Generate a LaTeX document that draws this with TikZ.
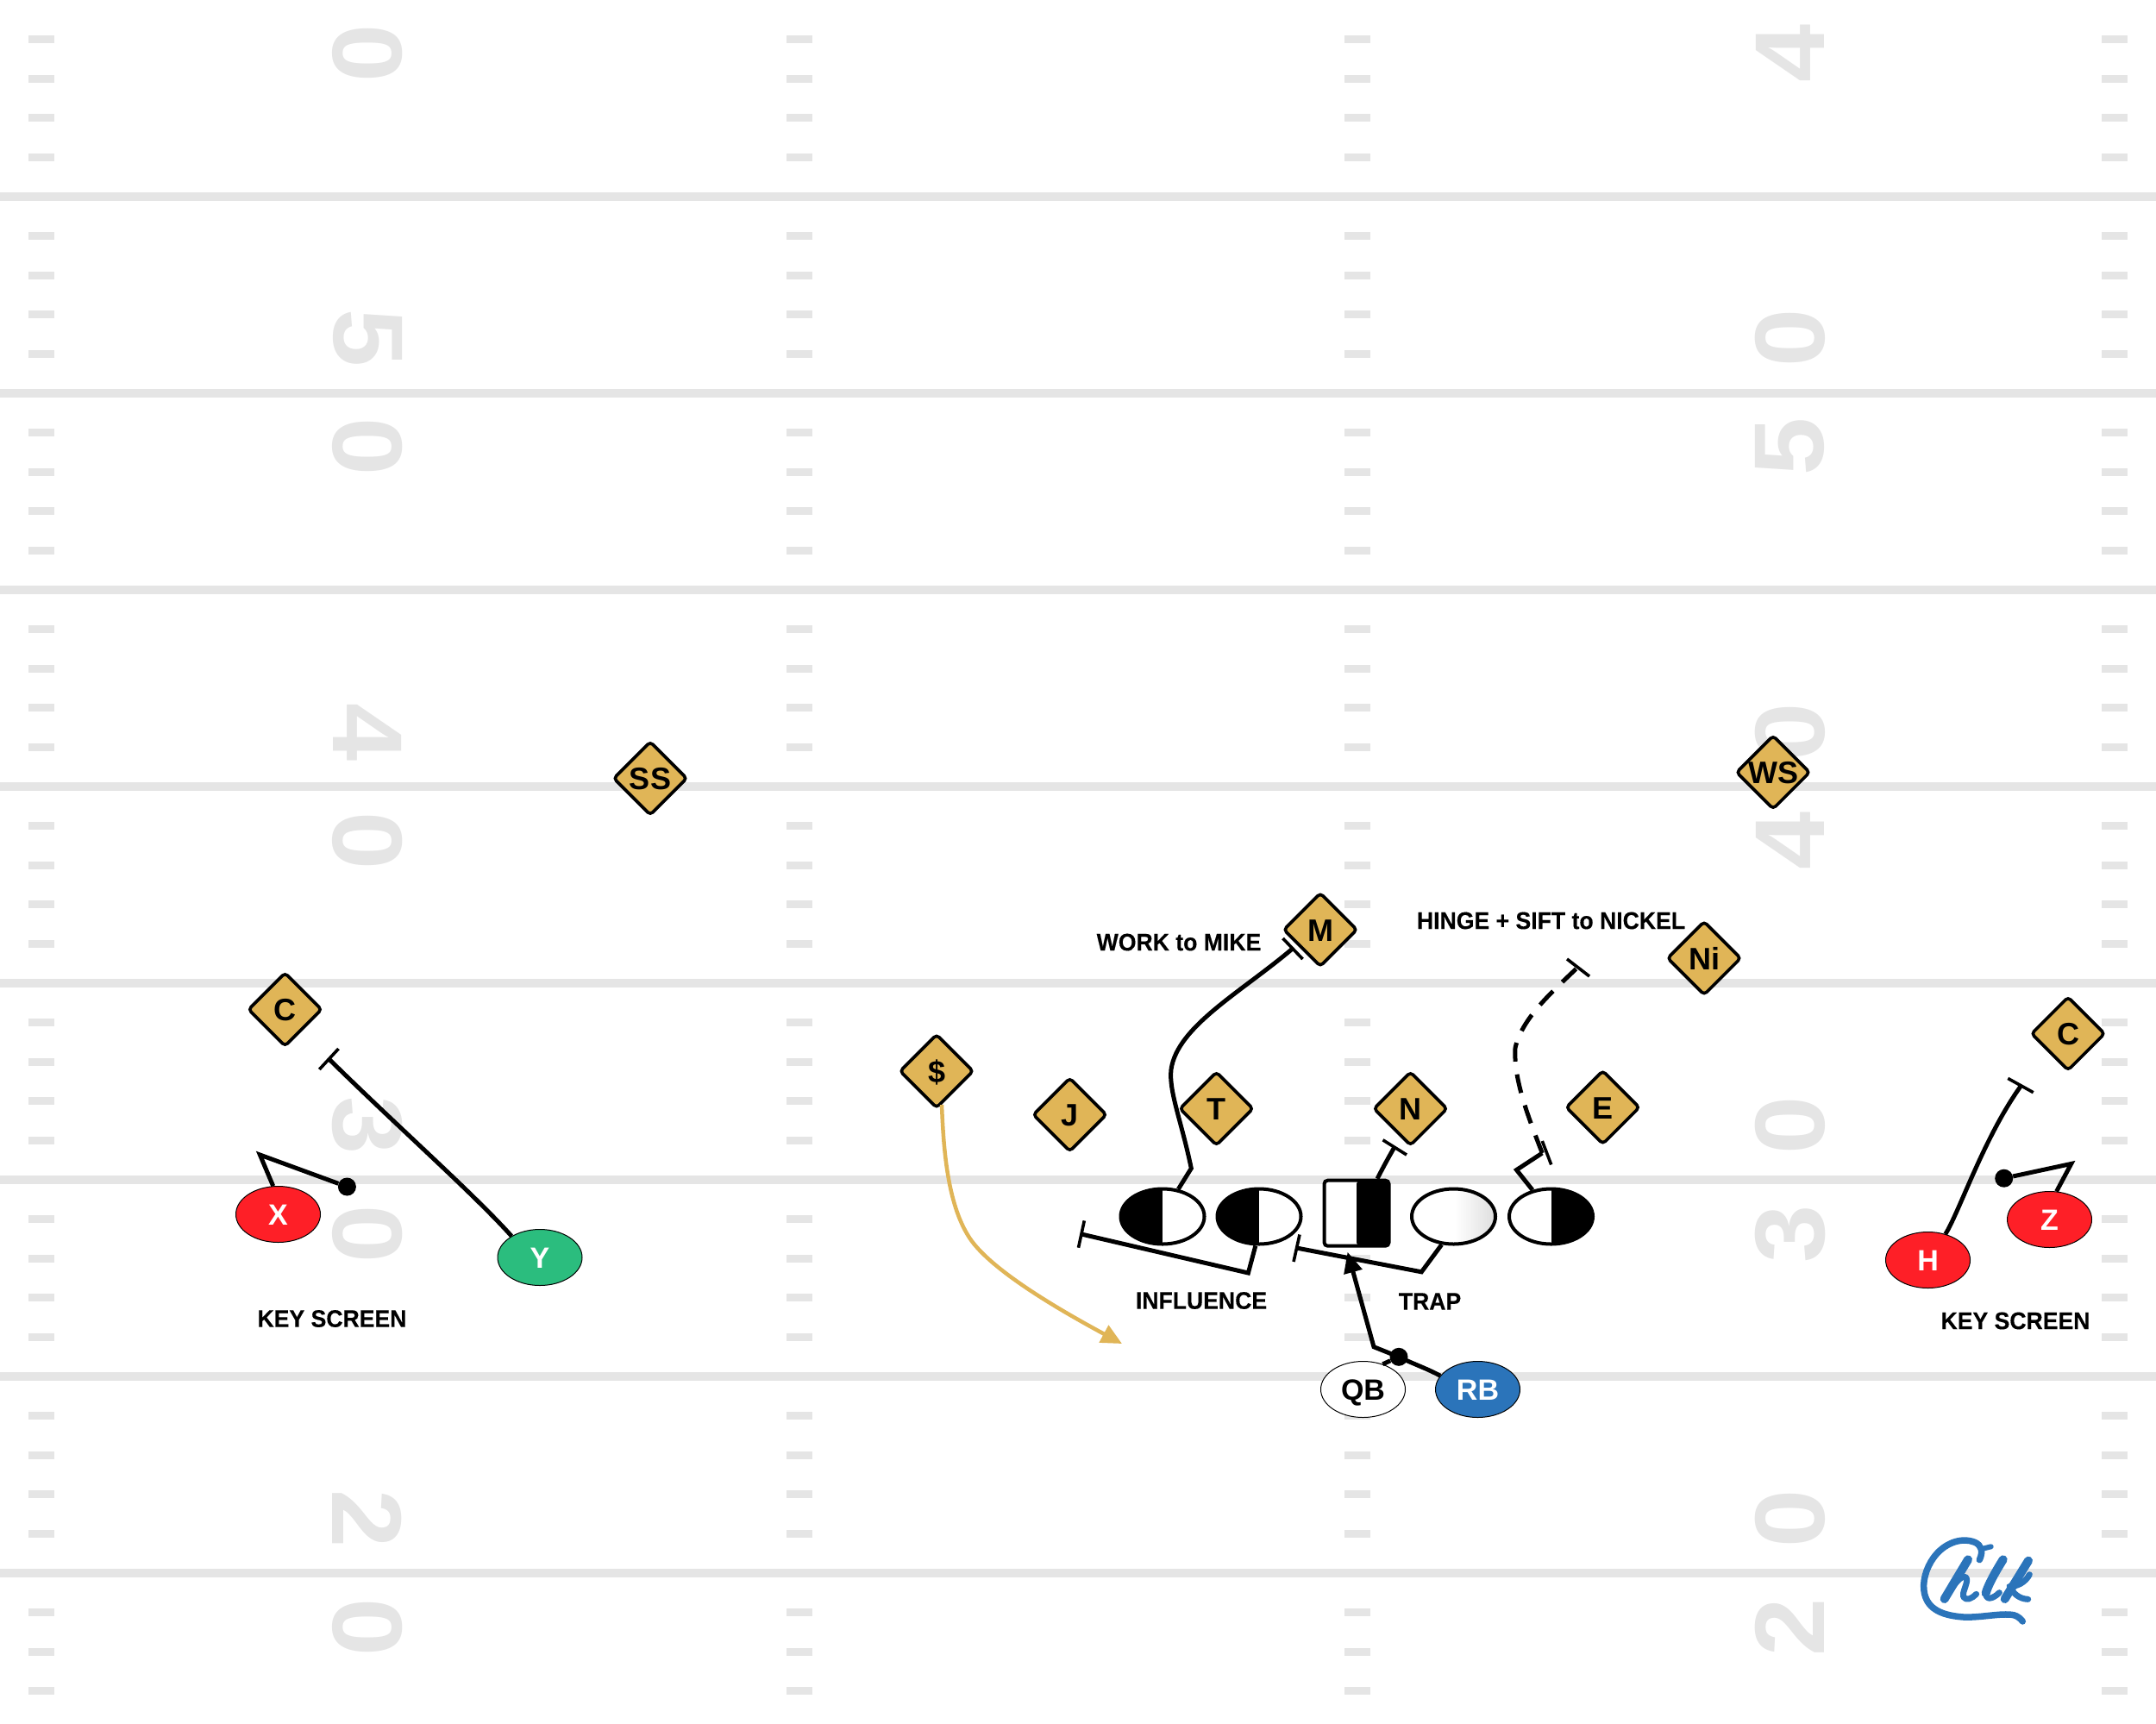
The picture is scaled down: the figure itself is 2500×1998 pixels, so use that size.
\documentclass[tikz,border=0pt]{standalone}
\usepackage{fontspec}
\usetikzlibrary{shapes.geometric,arrows.meta}
\setmainfont{Liberation Sans}
\newfontfamily\lblfont[BoldFeatures={FakeStretch=0.95,FakeBold=0.3}]{Liberation Sans}
\newfontfamily\yardfont[FakeStretch=1.05]{Liberation Sans}
\definecolor{fieldgrey}{HTML}{E5E5E5}
\definecolor{gold}{HTML}{E0B557}
\definecolor{redp}{HTML}{FE1F27}
\definecolor{greenp}{HTML}{2BBD7E}
\definecolor{bluep}{HTML}{2B74BA}
\tikzset{
  x=1pt,y=-1pt,
  yardline/.style={fill=fieldgrey,draw=none},
  yardnum/.style={text=fieldgrey,inner sep=0pt,font=\yardfont\fontsize{115}{115}\selectfont\bfseries},
  defender/.style={shape=diamond,aspect=1,draw=black,line width=3.6pt,fill=gold,rounded corners=4pt,
    inner sep=0pt,minimum width=86pt,minimum height=86pt,text=black,text height=26pt,text depth=0pt,
    font=\fontsize{36}{36}\selectfont\bfseries},
  player/.style={shape=ellipse,draw=black,line width=1pt,inner sep=0pt,minimum width=98pt,minimum height=65pt,
    text height=24.5pt,text depth=0pt,font=\fontsize{34}{34}\selectfont\bfseries},
  lineman/.style={shape=ellipse,draw=black,line width=4pt,fill=white,inner sep=0pt,minimum width=97pt,minimum height=64pt},
  leftblack/.style={path picture={\fill[black] (path picture bounding box.north west) rectangle (path picture bounding box.south);}},
  rightblack/.style={path picture={\fill[black] (path picture bounding box.north) rectangle (path picture bounding box.south east);}},
  rightshade/.style={path picture={
    \foreach \i in {0,...,24}{
      \pgfmathsetmacro{\gr}{\i*0.55}
      \fill[black!\gr] ([xshift=\i*2pt]path picture bounding box.north) rectangle ([xshift=\i*2pt+2.5pt]path picture bounding box.south);
    }}},
  centerbox/.style={shape=rectangle,draw=black,line width=4pt,fill=white,rounded corners=4pt,inner sep=0pt,minimum width=75pt,minimum height=76pt},
  route/.style={draw=black,line width=5pt,line join=miter},
  tee/.style={draw=black,line width=3.6pt},
  dot/.style={shape=circle,fill=black,draw=none,inner sep=0pt,minimum size=21pt},
  note/.style={inner sep=0pt,text=black,font=\lblfont\fontsize{28}{28}\selectfont\bfseries},
  logo/.style={draw=bluep,line cap=round,line join=round},
}
\begin{document}
\begin{tikzpicture}
\useasboundingbox (0,0) rectangle (2500,1998);
\fill[white] (0,0) rectangle (2500,1998);
% yard lines
\foreach \yy in {228,456,684,912,1140,1368,1596,1824}
  \fill[yardline] (0,\yy-5) rectangle (2500,\yy+5);
% hash marks
\foreach \hx in {32.5,912,1559,2437}
  \foreach \k in {0,...,8}
    \foreach \j in {1,2,3,4}{
      \pgfmathsetmacro{\hy}{\k*228+\j*45.6}
      \ifdim\hy pt<1990pt
        \fill[yardline] (\hx,\hy-4.5) rectangle (\hx+30,\hy+4.5);
      \fi
    }
% yard numbers
\foreach \dg/\ny in {0/62,5/392,0/518,4/849,0/975,3/1305,0/1431,2/1761,0/1887}
  \node[yardnum,rotate=-90] at (426,\ny) {\dg};
\foreach \dg/\ny in {4/62,0/392,5/518,0/849,4/975,0/1305,3/1431,0/1761,2/1887}
  \node[yardnum,rotate=90] at (2075.5,\ny) {\dg};
% defenders
\node[defender] (SS) at (754,902.5) {SS};
\node[defender] (WS) at (2056,895.5) {WS};
\node[defender] (M) at (1531,1078) {M};
\node[defender] (Ni) at (1976,1111) {Ni};
\node[defender] (CL) at (330.5,1170.5) {C};
\node[defender] (CR) at (2398,1198.5) {C};
\node[defender] (Dollar) at (1086,1242) {\$};
\node[defender] (J) at (1240.5,1292.5) {J};
\node[defender] (T) at (1410.5,1285.5) {T};
\node[defender] (N) at (1635.5,1285.5) {N};
\node[defender] (E) at (1858.5,1284) {E};
% offense
\node[player,fill=redp,text=white] (X) at (322.5,1408) {X};
\node[player,fill=greenp,text=white] (Y) at (626,1458) {Y};
\node[player,fill=redp,text=white] (H) at (2235.5,1461) {H};
\node[player,fill=redp,text=white] (Z) at (2376.5,1414) {Z};
\node[player,fill=white,text=black] (QB) at (1580.5,1611) {QB};
\node[player,fill=bluep,text=white] (RB) at (1713.5,1611) {RB};
\node[lineman,leftblack] (LT) at (1348,1410.5) {};
\node[lineman,leftblack] (LG) at (1460,1410.5) {};
\node[centerbox,rightblack] (OC) at (1573,1406.7) {};
\node[lineman,rightshade] (RG) at (1685.5,1410.5) {};
\node[lineman,rightblack] (RT) at (1798.5,1410.5) {};
% notes
\node[note] (n1) at (385,1529) {KEY SCREEN};
\node[note] (n2) at (2337,1531.5) {KEY SCREEN};
\node[note] (n3) at (1367,1092.5) {WORK to MIKE};
\node[note] (n4) at (1798.5,1067.5) {HINGE + SIFT to NICKEL};
\node[note] (n5) at (1393,1508) {INFLUENCE};
\node[note] (n6) at (1658,1509) {TRAP};
% ---- waypoints
\coordinate (yEnd) at (381.8,1228.3);
\coordinate (yTa) at (370.3,1240);
\coordinate (yTb) at (392.5,1216);
\coordinate (xKnee) at (301.4,1339);
\coordinate (hEnd) at (2342.7,1260);
\coordinate (hTa) at (2328.3,1250.4);
\coordinate (hTb) at (2357.7,1266.7);
\coordinate (zKnee) at (2401.7,1349.4);
\coordinate (mKnee) at (1381.3,1354.7);
\coordinate (mEnd) at (1499,1099.7);
\coordinate (mTa) at (1487.5,1088);
\coordinate (mTb) at (1510.5,1112);
\coordinate (rtKnee) at (1758.5,1356.5);
\coordinate (rtEnd) at (1788.3,1337);
\coordinate (rtTa) at (1788.3,1323);
\coordinate (rtTb) at (1798.7,1350.4);
\coordinate (dEnd) at (1830,1121);
\coordinate (dTa) at (1817,1112);
\coordinate (dTb) at (1843,1132);
\coordinate (nEnd) at (1617,1330);
\coordinate (nTa) at (1603.5,1321.8);
\coordinate (nTb) at (1631,1339);
\coordinate (lgKnee) at (1447.4,1476);
\coordinate (lgEnd) at (1254,1431);
\coordinate (lgTa) at (1257.3,1415.4);
\coordinate (lgTb) at (1250.5,1446.7);
\coordinate (rgKnee) at (1648.3,1474.8);
\coordinate (rgEnd) at (1503.5,1447);
\coordinate (rgTa) at (1507,1431.5);
\coordinate (rgTb) at (1500,1463);
\coordinate (rbKnee) at (1593,1561.7);
\coordinate (rbTip) at (1562.6,1451.7);
\coordinate (gTip) at (1301,1558);
\coordinate (gStart) at (1092,1281);
% ---- connectors
\draw[route] (Y.143) .. controls (550,1385) and (465,1310) .. (yEnd);
\draw[tee] (yTa) -- (yTb);
\node[dot] (xDot) at (402.4,1376) {};
\draw[route] (X.100) -- (xKnee) -- (xDot);
\draw[route] (H.56) .. controls (2272,1405) and (2300,1320) .. (hEnd);
\draw[tee] (hTa) -- (hTb);
\node[dot] (zDot) at (2323.7,1366.2) {};
\draw[route] (Z.76) -- (zKnee) -- (zDot);
\draw[route] (LT.60) -- (mKnee) .. controls (1370,1300) and (1355,1265) .. (1358,1240) .. controls (1365,1190) and (1440,1150) .. (mEnd);
\draw[tee] (mTa) -- (mTb);
\draw[route] (RT.125) -- (rtKnee) -- (rtEnd);
\draw[tee] (rtTa) -- (rtTb);
\draw[route,dash pattern=on 22pt off 15pt] (rtEnd) .. controls (1770,1290) and (1755,1250) .. (1757,1215) .. controls (1765,1180) and (1800,1150) .. (dEnd);
\draw[tee] (dTa) -- (dTb);
\draw[route] (OC.59) .. controls (1603,1355) and (1610,1342) .. (nEnd);
\draw[tee] (nTa) -- (nTb);
\draw[route] (LG.263) -- (lgKnee) -- (lgEnd);
\draw[tee] (lgTa) -- (lgTb);
\draw[route] (RG.247) -- (rgKnee) -- (rgEnd);
\draw[tee] (rgTa) -- (rgTb);
\node[dot] (bDot) at (1622,1573.3) {};
\draw[route] (QB.52) -- (bDot);
\draw[route,-{Triangle[length=24pt,width=21pt]}] (RB.160) .. controls (1655,1587) and (1640,1582) .. (bDot.center) -- (rbKnee) -- (rbTip);
\draw[draw=gold,line width=4.5pt,-{Triangle[length=24pt,width=22pt]}] (gStart) .. controls (1094,1330) and (1098,1395) .. (1124,1435) .. controls (1150,1475) and (1240,1525) .. (gTip);
% logo
\begin{scope}[shift={(2210,1760)},x=0.3333pt,y=-0.3333pt]
\draw[logo,line width=6pt] (264,108) -- (296,100);
\draw[logo,line width=7.5pt] (256,146) .. controls (270,115) and (262,95) .. (240,85) .. controls (190,65) and (130,90) .. (95,140) .. controls (70,175) and (55,225) .. (65,265) .. controls (78,320) and (130,340) .. (200,345) .. controls (260,348) and (330,330) .. (375,338) .. controls (390,342) and (400,352) .. (406,360);
\draw[logo,line width=10pt] (216,145) -- (134,282);
\draw[logo,line width=7pt] (160,245) .. controls (185,205) and (210,195) .. (212,215) .. controls (212,235) and (195,260) .. (200,275) .. controls (210,290) and (230,280) .. (245,265);
\draw[logo,line width=10pt] (338,145) .. controls (310,190) and (285,235) .. (278,262);
\draw[logo,line width=7pt] (278,262) .. controls (278,290) and (305,280) .. (325,260);
\draw[logo,line width=10pt] (426,149) -- (344,282);
\draw[logo,line width=7pt] (430,197) .. controls (415,225) and (385,240) .. (360,238) .. controls (375,265) and (395,282) .. (425,283);
\end{scope}
\end{tikzpicture}
\end{document}
